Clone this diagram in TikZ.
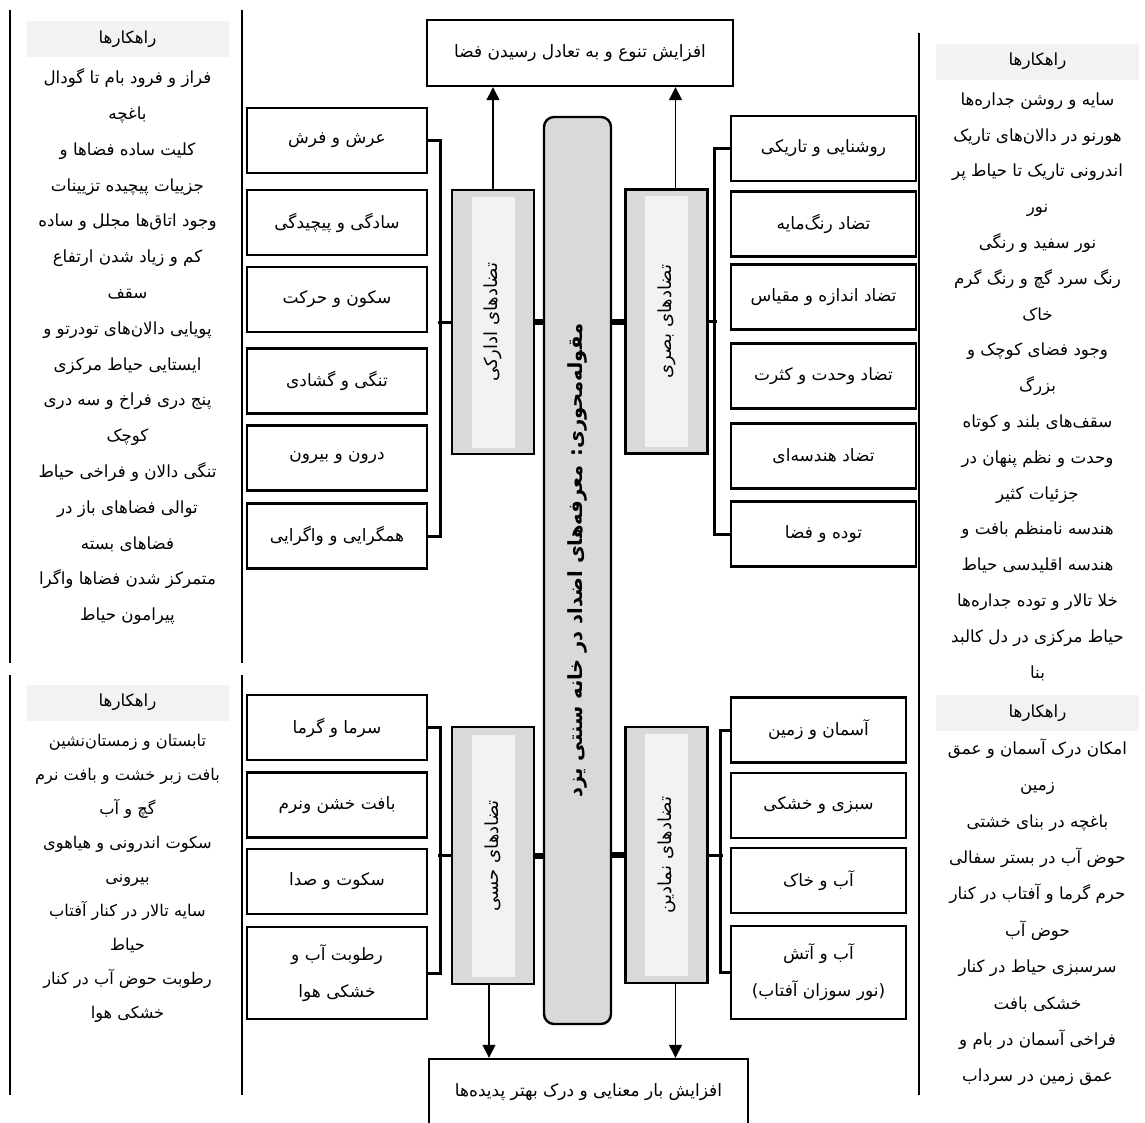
\documentclass[tikz,border=0pt]{standalone}
\usepackage{fontspec}
\newfontfamily\arabicfont[Script=Arabic]{DejaVu Sans}
\newfontfamily\latinfont{DejaVu Sans}
\TeXXeTstate=1
\usetikzlibrary{arrows.meta,positioning}
\definecolor{grayD}{HTML}{D9D9D9}
\definecolor{grayL}{HTML}{F2F2F2}
\newcommand{\fa}[1]{\beginR #1\endR}
\newcommand{\topstrut}{\rule{0pt}{20pt}}
\tikzset{
  pairbox/.style={draw, line width=2.4pt, fill=white, minimum height=65pt, inner sep=0pt,
    align=center, font=\arabicfont\fontsize{17}{37}\selectfont},
  groupbox/.style={draw, line width=2.4pt, fill=grayD, minimum width=82pt, minimum height=264pt},
  grouptext/.style={fill=grayL, rotate=90, minimum width=251pt, minimum height=43pt, inner sep=0pt,
    font=\arabicfont\fontsize{18}{20}\selectfont},
  corebar/.style={draw, line width=2.4pt, fill=grayD, rounded corners=10pt, rotate=90,
    minimum width=907pt, minimum height=67pt, inner sep=0pt,
    font=\arabicfont\bfseries\fontsize{19.5}{22}\selectfont},
  goalbox/.style={draw, line width=2.4pt, fill=white, minimum height=66pt, inner sep=0pt,
    font=\arabicfont\fontsize{17}{20}\selectfont},
  headband/.style={fill=grayL, minimum width=202pt, minimum height=36pt, inner sep=0pt,
    font=\arabicfont\fontsize{16.7}{20}\selectfont},
  solution/.style={anchor=north, inner sep=0pt, align=center},
  colline/.style={line width=2pt},
  bracket/.style={line width=3pt},
  stub/.style={line width=6pt},
  flow/.style={line width=1.3pt, -{Triangle[length=13pt,width=13pt]}}
}
\begin{document}
\begin{tikzpicture}[x=1pt,y=-1pt]
\useasboundingbox (0,0) rectangle (1145,1122);

% column rules
\draw[colline] (10,10) -- (10,663);
\draw[colline] (242,10) -- (242,663);
\draw[colline] (10,675) -- (10,1095);
\draw[colline] (242,675) -- (242,1095);
\draw[colline] (919,33) -- (919,1095);

% goals
\node[goalbox, minimum width=306pt] (goal) at (580,53) {\fa{افزایش تنوع و به تعادل رسیدن فضا}};
\node[goalbox, minimum width=319pt] (result) at (588.5,1092) {\fa{افزایش بار معنایی و درک بهتر پدیده‌ها}};

% core
\node[corebar] (core) at (577.5,570.5) {\hspace*{20pt}\fa{مقوله‌محوری: معرفه‌های اضداد در خانه سنتی یزد}};

% groups
\node[groupbox] (idraki) at (493,322) {};
\node[grouptext] (idrakiL) at (idraki.center) {\fa{تضادهای ادارکی}};
\node[groupbox] (basari) at (666.5,321.5) {};
\node[grouptext] (basariL) at (basari.center) {\fa{تضادهای بصری}};
\node[groupbox, minimum height=257pt] (hessi) at (493,855.5) {};
\node[grouptext, minimum width=242pt] (hessiL) at (hessi.center) {\fa{تضادهای حسی}};
\node[groupbox, minimum height=256pt] (namadin) at (666.5,855) {};
\node[grouptext, minimum width=242pt] (namadinL) at (namadin.center) {\fa{تضادهای نمادین}};

% perceptual pairs
\node[pairbox, minimum width=180pt] (ed1) at (337,140.5) {\fa{عرش و فرش}};
\node[pairbox, minimum width=180pt] (ed2) at (337,222.5) {\fa{سادگی و پیچیدگی}};
\node[pairbox, minimum width=180pt] (ed3) at (337,299.5) {\fa{سکون و حرکت}};
\node[pairbox, minimum width=180pt] (ed4) at (337,381) {\fa{تنگی و گشادی}};
\node[pairbox, minimum width=180pt] (ed5) at (337,458) {\fa{درون و بیرون}};
\node[pairbox, minimum width=180pt] (ed6) at (337,536) {\fa{همگرایی و واگرایی}};

% visual pairs
\node[pairbox, minimum width=185pt] (bs1) at (823.5,148.5) {\fa{روشنایی و تاریکی}};
\node[pairbox, minimum width=185pt] (bs2) at (823.5,224) {\fa{تضاد رنگ‌مایه}};
\node[pairbox, minimum width=185pt] (bs3) at (823.5,297) {\fa{تضاد اندازه و مقیاس}};
\node[pairbox, minimum width=185pt] (bs4) at (823.5,376) {\fa{تضاد وحدت و کثرت}};
\node[pairbox, minimum width=185pt] (bs5) at (823.5,456) {\fa{تضاد هندسه‌ای}};
\node[pairbox, minimum width=185pt] (bs6) at (823.5,534) {\fa{توده و فضا}};

% sensory pairs
\node[pairbox, minimum width=180pt] (hs1) at (337,727.5) {\fa{سرما و گرما}};
\node[pairbox, minimum width=180pt] (hs2) at (337,805) {\fa{بافت خشن ونرم}};
\node[pairbox, minimum width=180pt] (hs3) at (337,881.5) {\fa{سکوت و صدا}};
\node[pairbox, minimum width=180pt, minimum height=92pt] (hs4) at (337,973) {\fa{رطوبت آب و}\\\fa{خشکی هوا}};

% symbolic pairs
\node[pairbox, minimum width=175pt] (nm1) at (818.5,730) {\fa{آسمان و زمین}};
\node[pairbox, minimum width=175pt] (nm2) at (818.5,805.5) {\fa{سبزی و خشکی}};
\node[pairbox, minimum width=175pt] (nm3) at (818.5,880.5) {\fa{آب و خاک}};
\node[pairbox, minimum width=175pt, minimum height=93pt] (nm4) at (818.5,972.5) {\fa{آب و آتش}\\{\latinfont(}\fa{نور سوزان آفتاب}{\latinfont)}};

% brackets and links
\draw[bracket] (ed1.east) -- ++(12,0) |- (ed6.east);
\draw[bracket] (idraki.west) -- ++(-13,0);
\draw[bracket] (bs1.west) -- ++(-15,0) |- (bs6.west);
\draw[bracket] (basari.east) -- ++(8,0);
\draw[bracket] (hs1.east) -- ++(12,0) |- (hs4.east);
\draw[bracket] (hessi.west) -- ++(-13,0);
\draw[bracket] (nm1.west) -- ++(-9,0) |- (nm4.west);
\draw[bracket] (namadin.east) -- ++(14,0);
\draw[stub] (idraki.east) -- (idraki.east -| core.north);
\draw[stub] (basari.west) -- (basari.west -| core.south);
\draw[stub] (hessi.east) -- (hessi.east -| core.north);
\draw[stub] (namadin.west) -- (namadin.west -| core.south);

\draw[flow] (idraki.north) -- (idraki.north |- goal.south);
\draw[flow] ([xshift=9pt]basari.north) -- ([xshift=9pt]basari.north |- goal.south);
\draw[flow] ([xshift=-4pt]hessi.south) -- ([xshift=-4pt]hessi.south |- result.north);
\draw[flow] ([xshift=9pt]namadin.south) -- ([xshift=9pt]namadin.south |- result.north);

% solutions
\node[headband] (hLT) at (127.5,39) {\fa{راهکارها}};
\node[solution, font=\arabicfont\fontsize{16.7}{35.8}\selectfont] (sLT) at (127.5,63.5) {\topstrut\fa{فراز و فرود بام تا گودال}\\
\fa{باغچه}\\
\fa{کلیت ساده فضاها و}\\
\fa{جزییات پیچیده تزیینات}\\
\fa{وجود اتاق‌ها مجلل و ساده}\\
\fa{کم و زیاد شدن ارتفاع}\\
\fa{سقف}\\
\fa{پویایی دالان‌های تودرتو و}\\
\fa{ایستایی حیاط مرکزی}\\
\fa{پنج دری فراخ و سه دری}\\
\fa{کوچک}\\
\fa{تنگی دالان و فراخی حیاط}\\
\fa{توالی فضاهای باز در}\\
\fa{فضاهای بسته}\\
\fa{متمرکز شدن فضاها واگرا}\\
\fa{پیرامون حیاط}};

\node[headband] (hLB) at (127.5,702.5) {\fa{راهکارها}};
\node[solution, font=\arabicfont\fontsize{16.2}{34}\selectfont] (sLB) at (127.5,726.5) {\topstrut\fa{تابستان و زمستان‌نشین}\\
\fa{بافت زبر خشت و بافت نرم}\\
\fa{گچ و آب}\\
\fa{سکوت اندرونی و هیاهوی}\\
\fa{بیرونی}\\
\fa{سایه تالار در کنار آفتاب}\\
\fa{حیاط}\\
\fa{رطوبت حوض آب در کنار}\\
\fa{خشکی هوا}};

\node[headband, minimum width=203pt] (hRT) at (1037.5,61.5) {\fa{راهکارها}};
\node[solution, font=\arabicfont\fontsize{16.7}{35.8}\selectfont] (sRT) at (1037.5,85) {\topstrut\fa{سایه و روشن جداره‌ها}\\
\fa{هورنو در دالان‌های تاریک}\\
\fa{اندرونی تاریک تا حیاط پر}\\
\fa{نور}\\
\fa{نور سفید و رنگی}\\
\fa{رنگ سرد گچ و رنگ گرم}\\
\fa{خاک}\\
\fa{وجود فضای کوچک و}\\
\fa{بزرگ}\\
\fa{سقف‌های بلند و کوتاه}\\
\fa{وحدت و نظم پنهان در}\\
\fa{جزئیات کثیر}\\
\fa{هندسه نامنظم بافت و}\\
\fa{هندسه اقلیدسی حیاط}\\
\fa{خلا تالار و توده جداره‌ها}\\
\fa{حیاط مرکزی در دل کالبد}\\
\fa{بنا}};

\node[headband, minimum width=203pt] (hRB) at (1037.5,713) {\fa{راهکارها}};
\node[solution, font=\arabicfont\fontsize{16.7}{36.4}\selectfont] (sRB) at (1037.5,734) {\topstrut\fa{امکان درک آسمان و عمق}\\
\fa{زمین}\\
\fa{باغچه در بنای خشتی}\\
\fa{حوض آب در بستر سفالی}\\
\fa{حرم گرما و آفتاب در کنار}\\
\fa{حوض آب}\\
\fa{سرسبزی حیاط در کنار}\\
\fa{خشکی بافت}\\
\fa{فراخی آسمان در بام و}\\
\fa{عمق زمین در سرداب}};
\end{tikzpicture}
\end{document}
